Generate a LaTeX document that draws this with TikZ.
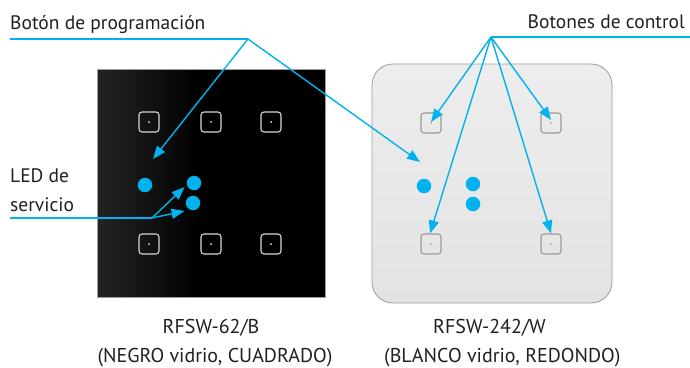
\documentclass[tikz,border=0pt]{standalone}
\usepackage{fontspec}
\setmainfont{PT Sans}
\usetikzlibrary{arrows.meta,calc}
\definecolor{ledblue}{HTML}{00B2EE}
\definecolor{keyline}{HTML}{D6D6D6}
\definecolor{keygray}{HTML}{9A9A9A}
\definecolor{panelgray}{HTML}{9C9C9C}
\definecolor{inkgray}{HTML}{231F20}
\tikzset{
  x=1pt, y=-1pt,
  lbl/.style={font=\fontsize{19.5}{22}\selectfont, text=inkgray, inner sep=0pt},
  captxt/.style={font=\fontsize{20}{22}\selectfont, text=inkgray, inner sep=0pt},
  pointer/.style={draw=ledblue, line width=1.4pt, -{Triangle[length=13pt,width=10pt]}},
  rule/.style={draw=ledblue, line width=1.4pt},
  darkkey/.style={draw=keyline, line width=1.1pt, rounded corners=3pt, minimum size=20pt, inner sep=0pt},
  lightkey/.style={draw=keygray, line width=1.1pt, rounded corners=3pt, minimum size=20pt, inner sep=0pt},
  led/.style={circle, fill=ledblue, minimum size=14.5pt, inner sep=0pt},
}
\begin{document}
\begin{tikzpicture}
\useasboundingbox (0,0) rectangle (690,367);
\fill[white] (0,0) rectangle (690,367);

% black glass panel, with a faint sheen on its left edge
\fill[black] (97,69) rectangle (325,297);
\shade[left color=black!86, right color=black] (97,69) rectangle (200,297);
\draw[panelgray, line width=0.8pt] (97,69) rectangle (325,297);

% white glass panel
\shade[top color=white!93!black, bottom color=white!89!black, draw=panelgray, line width=0.8pt, rounded corners=21pt]
  (372,64) rectangle (612,303);

% keys of the black panel
\foreach \n/\px/\py in {b1/149/122, b2/211/122, b3/271/122, b4/149/244, b5/211/244, b6/271/244}{
  \node[darkkey] (\n) at (\px,\py) {};
  \fill[white!90!black] (\n.center) circle (1pt);
}
% keys of the white panel
\foreach \n/\px/\py in {w1/431/123, w2/551/123, w3/431/244, w4/551/244}{
  \node[lightkey] (\n) at (\px,\py) {};
  \fill[keygray] (\n.center) circle (0.9pt);
}

% LEDs
\node[led] (bl) at (145,185) {};
\node[led] (br1) at (194,183) {};
\node[led] (br2) at (193,203) {};
\node[led] (wl) at (424,186) {};
\node[led] (wr1) at (473,184) {};
\node[led] (wr2) at (473,204) {};

% labels
\node[lbl, anchor=base west] (prog) at (10,29) {Botón de programación};
\node[lbl, anchor=base east] (ctrl) at (685,28) {Botones de control};
\node[lbl, anchor=base west] (led1) at (10,182) {LED de};
\node[lbl, anchor=base west] (led2) at (10,211) {servicio};

\node[captxt, anchor=base] (c1) at (211,333) {RFSW-62/B};
\node[captxt, anchor=base] (c2) at (215,362) {(NEGRO vidrio, CUADRADO)};
\node[captxt, anchor=base west] (c3) at (433,333) {RFSW-242/W};
\node[captxt, anchor=base west] (c4) at (384,362) {(BLANCO vidrio, REDONDO)};

% leader lines
\coordinate (progL) at (10,39);
\coordinate (progK) at (248,39);
\coordinate (ctrlK) at (491,37);
\coordinate (ctrlR) at (690,37);
\coordinate (ledL) at (10,218);
\coordinate (ledK) at (152,218);

\coordinate (pgB) at (153,159);
\coordinate (pgW) at (420,162);
\coordinate (tw1) at ($(w1.center)+(0,-1)$);
\coordinate (tw2) at ($(w2.center)+(0,-3)$);
\coordinate (tw3) at ($(w3.north)+(-1,0)$);
\coordinate (tw4) at (w4.north);
\coordinate (tl1) at ($(br1.west)+(-2,4)$);
\coordinate (tl2) at ($(br2.west)+(-1,8)$);

\draw[rule] (progL) -- (progK);
\draw[rule] (ctrlK) -- (ctrlR);
\draw[rule] (ledL) -- (ledK);

\draw[pointer] (progK) -- (pgB);
\draw[pointer] (progK) -- (pgW);
\draw[pointer] (ctrlK) -- (tw1);
\draw[pointer] (ctrlK) -- (tw2);
\draw[pointer] (ctrlK) -- (tw3);
\draw[pointer] (ctrlK) -- (tw4);
\draw[pointer] (ledK) -- (tl1);
\draw[pointer] (ledK) -- (tl2);
\end{tikzpicture}
\end{document}
